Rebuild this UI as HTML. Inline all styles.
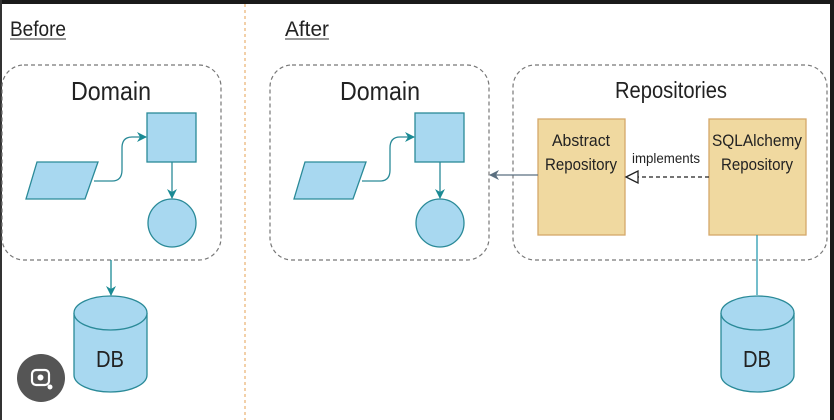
<!DOCTYPE html>
<html><head><meta charset="utf-8"><style>
body{margin:0;width:834px;height:420px;overflow:hidden;background:#fff}
svg{display:block}
text{font-family:"Liberation Sans Narrow","Liberation Sans",sans-serif;fill:#222}
</style></head><body>
<svg width="834" height="420" viewBox="0 0 834 420" xmlns="http://www.w3.org/2000/svg">
<defs>
<marker id="a" markerWidth="10" markerHeight="10" refX="9" refY="5" orient="auto" markerUnits="userSpaceOnUse"><path d="M0,0 L10,5 L0,10 L3,5 Z" fill="#1a8a94"/></marker>
<marker id="g" markerWidth="10" markerHeight="10" refX="9" refY="5" orient="auto" markerUnits="userSpaceOnUse"><path d="M0,0 L10,5 L0,10 L3,5 Z" fill="#5a6f80"/></marker>
</defs>
<rect x="0" y="0" width="834" height="4" fill="#1a1a1a"/>
<rect x="0" y="0" width="2" height="420" fill="#333"/>
<rect x="830" y="0" width="4" height="420" fill="#1a1a1a"/>
<line x1="245" y1="4" x2="245" y2="420" stroke="#e8b070" stroke-width="1.2" stroke-dasharray="3,3"/>

<text x="10" y="36" font-size="21" fill="#333" textLength="56" lengthAdjust="spacingAndGlyphs">Before</text>
<line x1="10" y1="39" x2="66" y2="39" stroke="#333" stroke-width="1"/>
<text x="285" y="36" font-size="21" fill="#333" textLength="44" lengthAdjust="spacingAndGlyphs">After</text>
<line x1="285" y1="39" x2="329" y2="39" stroke="#333" stroke-width="1"/>

<g stroke="#777" stroke-width="1.2" stroke-dasharray="4,3" fill="none">
<rect x="2" y="65" width="219" height="195" rx="22"/>
<rect x="270" y="65" width="219" height="195" rx="22"/>
<rect x="513" y="65" width="314" height="195" rx="22"/>
</g>
<text x="111" y="100" font-size="26" text-anchor="middle" textLength="80" lengthAdjust="spacingAndGlyphs">Domain</text>
<text x="380" y="100" font-size="26" text-anchor="middle" textLength="80" lengthAdjust="spacingAndGlyphs">Domain</text>
<text x="671" y="98" font-size="23" text-anchor="middle" textLength="112" lengthAdjust="spacingAndGlyphs">Repositories</text>

<g id="dom" fill="#a8d8f0" stroke="#2a8a98" stroke-width="1.3">
<polygon points="37,162 98,162 85,199 26,199"/>
<rect x="147" y="113" width="49" height="49"/>
<circle cx="172" cy="223" r="24"/>
<path d="M94,181 H112 Q122,181 122,170 V148 Q122,137 132,137 H146" fill="none" marker-end="url(#a)"/>
<line x1="172" y1="162" x2="172" y2="198" marker-end="url(#a)"/>
</g>
<use href="#dom" transform="translate(268,0)"/>

<line x1="111" y1="260" x2="111" y2="295" stroke="#1a8a94" stroke-width="1.3" marker-end="url(#a)"/>
<g fill="#a8d8f0" stroke="#2a8a98" stroke-width="1.3">
<path d="M74,313 V375 A36.5,17 0 0 0 147,375 V313"/>
<ellipse cx="110.5" cy="313" rx="36.5" ry="17"/>
<path d="M721,313 V375 A36.5,17 0 0 0 794,375 V313"/>
<ellipse cx="757.5" cy="313" rx="36.5" ry="17"/>
</g>
<text x="110" y="367" font-size="23" text-anchor="middle" textLength="28" lengthAdjust="spacingAndGlyphs">DB</text>
<text x="757" y="367" font-size="23" text-anchor="middle" textLength="28" lengthAdjust="spacingAndGlyphs">DB</text>

<g fill="#f0d9a0" stroke="#d4a86a" stroke-width="1.3">
<rect x="538" y="119" width="87" height="116"/>
<rect x="709" y="119" width="97" height="116"/>
</g>
<g font-size="17" text-anchor="middle">
<text x="581" y="146" textLength="58" lengthAdjust="spacingAndGlyphs">Abstract</text>
<text x="581" y="170" textLength="72" lengthAdjust="spacingAndGlyphs">Repository</text>
<text x="757" y="146" textLength="90" lengthAdjust="spacingAndGlyphs">SQLAlchemy</text>
<text x="757" y="170" textLength="72" lengthAdjust="spacingAndGlyphs">Repository</text>
</g>
<text x="666" y="163" font-size="14" text-anchor="middle" textLength="68" lengthAdjust="spacingAndGlyphs">implements</text>
<line x1="709" y1="177" x2="638" y2="177" stroke="#222" stroke-width="1.3" stroke-dasharray="4,3"/>
<polygon points="626,177 638,171 638,183" fill="#fff" stroke="#222" stroke-width="1.3"/>
<line x1="538" y1="175" x2="490" y2="175" stroke="#5a6f80" stroke-width="1.3" marker-end="url(#g)"/>
<line x1="757" y1="235" x2="757" y2="295" stroke="#2a9ab0" stroke-width="1.3"/>

<circle cx="41" cy="378" r="24" fill="#555"/>
<rect x="32" y="370" width="17" height="15" rx="4" fill="none" stroke="#fff" stroke-width="2.2"/>
<circle cx="40.5" cy="377.5" r="3" fill="#fff"/>
<circle cx="50" cy="387" r="2.5" fill="#fff"/>
</svg>
</body></html>
